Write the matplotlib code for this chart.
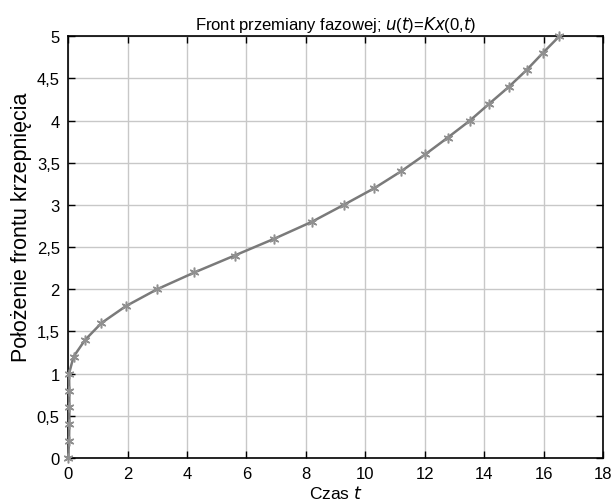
import numpy as np
import matplotlib
matplotlib.use("Agg")
import matplotlib.pyplot as plt
from matplotlib.ticker import FuncFormatter

# front position (y) vs time (t)
front = [0.0, 0.2, 0.4, 0.6, 0.8, 1.0, 1.2, 1.4, 1.6, 1.8, 2.0, 2.2, 2.4, 2.6,
         2.8, 3.0, 3.2, 3.4, 3.6, 3.8, 4.0, 4.2, 4.4, 4.6, 4.8, 5.0]
czas = [0.0, 0.03, 0.04, 0.04, 0.04, 0.03, 0.18, 0.57, 1.12, 1.94, 2.99, 4.25,
        5.6, 6.94, 8.2, 9.27, 10.31, 11.21, 12.02, 12.78, 13.52, 14.17, 14.83,
        15.43, 15.97, 16.53]

plt.rcParams['font.family'] = ['Liberation Sans', 'DejaVu Sans']

fig = plt.figure(figsize=(6.14, 5.02), dpi=100)
ax = fig.add_axes([0.111, 0.0857, 0.871, 0.84])

# the curve, then MATLAB-like asterisk markers on top
ax.plot(czas, front, '-', color='#7a7a7a', lw=1.8, zorder=3, clip_on=False)
ax.plot(czas, front, ls='none', marker=(6, 2, 0), ms=7, mew=1.1,
        mec='#909090', zorder=4, clip_on=False)

ax.set_xlim(0, 18)
ax.set_ylim(0, 5)
ax.set_xticks(np.arange(0, 19, 2))
ax.set_yticks(np.arange(0, 5.01, 0.5))
comma = FuncFormatter(lambda v, p: ('%g' % v).replace('.', ','))
ax.xaxis.set_major_formatter(comma)
ax.yaxis.set_major_formatter(comma)
ax.tick_params(direction='in', top=True, right=True, length=5, width=1,
               labelsize=12, pad=6)
ax.grid(True, color='#c8c8c8', lw=1)
ax.set_axisbelow(True)
for s in ax.spines.values():
    s.set_linewidth(1.2)

ax.set_title(r'Front przemiany fazowej; $\it{u}$($\it{t}$)=$\it{Kx}$(0,$\it{t}$)',
             fontsize=12, pad=5)
ax.set_xlabel(r'Czas $\it{t}$', fontsize=12.5, labelpad=2)
ax.set_ylabel('Położenie frontu krzepnięcia', fontsize=15.5)
ax.yaxis.set_label_coords(-0.067, 0.55)

fig.savefig('out.png', dpi=100)
